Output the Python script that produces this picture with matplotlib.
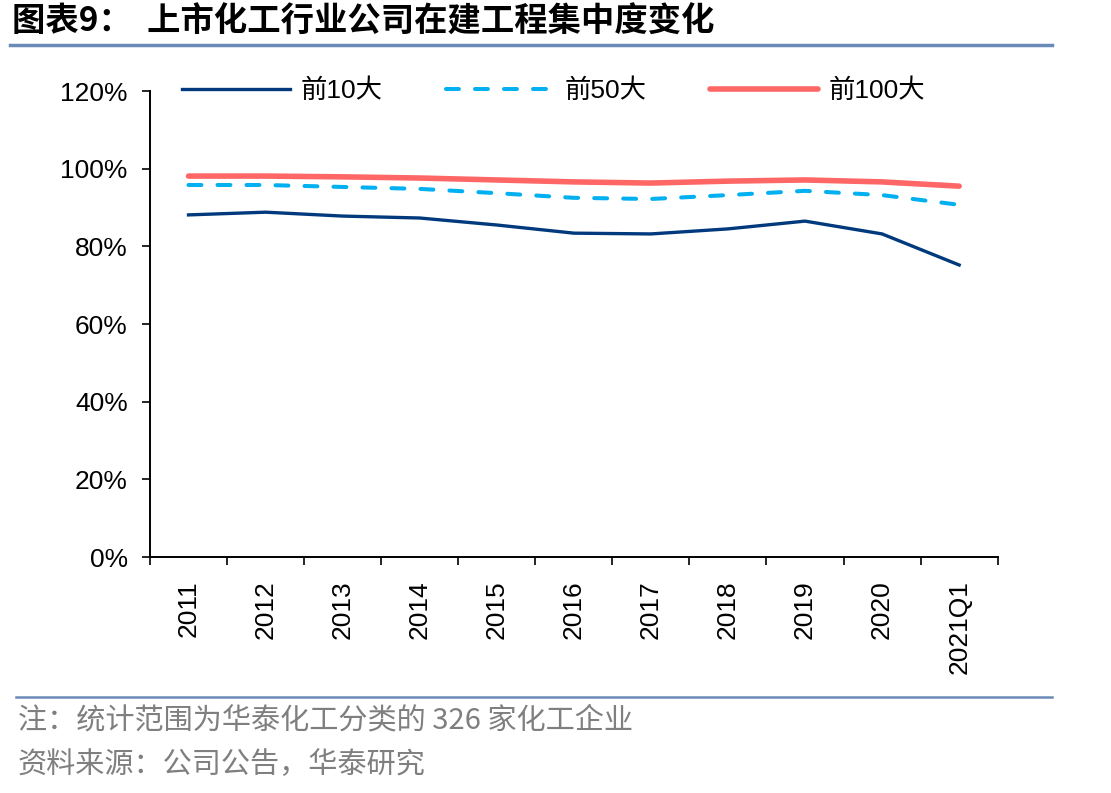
import numpy as np
import matplotlib.pyplot as plt
from matplotlib.lines import Line2D

plt.rcParams['font.family'] = ['Liberation Sans', 'Noto Sans CJK SC', 'DejaVu Sans']

# 数据
categories = ['2011', '2012', '2013', '2014', '2015', '2016', '2017', '2018', '2019', '2020', '2021Q1']
top10 = [88.1, 88.8, 87.8, 87.3, 85.5, 83.4, 83.2, 84.5, 86.5, 83.2, 75.2]
top50 = [95.8, 95.8, 95.3, 94.8, 93.7, 92.5, 92.2, 93.2, 94.3, 93.2, 90.7]
top100 = [98.1, 98.1, 97.9, 97.6, 97.1, 96.6, 96.3, 96.8, 97.1, 96.6, 95.5]
yticks = [0, 20, 40, 60, 80, 100, 120]

fig = plt.figure(figsize=(11.11, 7.93), dpi=100)
ax = fig.add_axes([0.135, 0.2976, 0.763, 0.5876])

x = np.arange(len(categories))
ax.plot(x, top10, color='#003A7D', lw=2.4, label='前10大')
ax.plot(x, top50, color='#00B0F0', lw=2.9, ls=(0, (3.2, 4)), dash_capstyle='round', label='前50大')
ax.plot(x, top100, color='#FF6666', lw=4, solid_capstyle='round', label='前100大')

ax.set_xlim(-0.5, len(categories) - 0.5)
ax.set_ylim(0, 120)
ax.set_yticks(yticks)
ax.set_yticklabels([f'{v}%' for v in yticks], fontsize=19)
ax.set_xticks(x)
ax.set_xticklabels(categories, rotation=90, fontsize=19)
ax.tick_params(axis='x', length=0, pad=17)
ax.set_xticks(np.arange(-0.5, len(categories)), minor=True)
ax.tick_params(axis='x', which='minor', length=6, width=1.2, direction='out')
ax.tick_params(axis='y', length=6, width=1.2, direction='out', pad=10)
for s in ['top', 'right']:
    ax.spines[s].set_visible(False)
for s in ['left', 'bottom']:
    ax.spines[s].set_linewidth(1.4)

leg = ax.legend(loc='center', bbox_to_anchor=(0.476, 1.0), ncol=3, frameon=False,
                handlelength=4.1, columnspacing=2.4, handletextpad=0.4,
                prop={'family': ['Liberation Sans', 'Noto Sans CJK SC'], 'size': 19})

# 标题与分隔线
fig.text(0.011, 0.972, '图表9：  上市化工行业公司在建工程集中度变化', fontsize=24,
         fontweight='heavy', family=['Noto Sans CJK SC'], va='center', ha='left')
fig.add_artist(Line2D([0.009, 0.947], [0.943, 0.943], color='#6A8AB8', lw=2.5))
fig.add_artist(Line2D([0.014, 0.947], [0.121, 0.121], color='#6A8AB8', lw=1.8))

fig.text(0.016, 0.091, '注：统计范围为华泰化工分类的 326 家化工企业', fontsize=21,
         color='#7F7F7F', va='center', ha='left', family=['Noto Sans CJK SC', 'Liberation Sans'])
fig.text(0.016, 0.035, '资料来源：公司公告，华泰研究', fontsize=21,
         color='#7F7F7F', va='center', ha='left', family=['Noto Sans CJK SC'])

fig.savefig('out.png', dpi=100)
